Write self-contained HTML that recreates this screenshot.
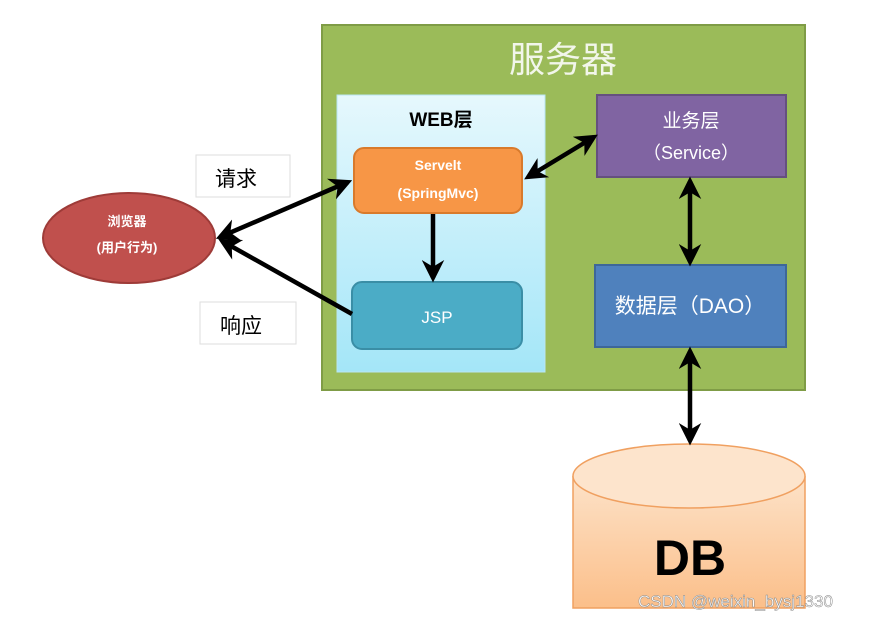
<!DOCTYPE html>
<html><head><meta charset="utf-8"><style>
body{margin:0;width:870px;height:620px;background:#fff;overflow:hidden;font-family:"Liberation Sans","Noto Sans CJK SC",sans-serif}
</style></head><body>
<svg width="870" height="620" xmlns="http://www.w3.org/2000/svg" font-family="'Liberation Sans','Noto Sans CJK SC',sans-serif">
<defs>
<linearGradient id="web" x1="0" y1="0" x2="0" y2="1"><stop offset="0" stop-color="#e6f8fd"/><stop offset="1" stop-color="#a4e6f8"/></linearGradient>
<linearGradient id="db" x1="0" y1="0" x2="0" y2="1"><stop offset="0" stop-color="#fde2c8"/><stop offset="1" stop-color="#fbbf8a"/></linearGradient>
<marker id="ah" viewBox="0 0 10 10" refX="8" refY="5" markerWidth="5" markerHeight="5" orient="auto-start-reverse"><path d="M0,0 L10,5 L0,10 L3,5z" fill="#000"/></marker>
</defs>
<rect x="322" y="25" width="483" height="365" fill="#9bbb59" stroke="#7f9c46" stroke-width="2"/>
<text x="563" y="72" font-size="36" fill="#f2f6ea" text-anchor="middle">服务器</text>
<rect x="337" y="95" width="208" height="277" fill="url(#web)" stroke="#b9e6f3"/>
<text x="441" y="126" font-size="19" font-weight="bold" text-anchor="middle">WEB层</text>
<rect x="354" y="148" width="168" height="65" rx="10" fill="#f79646" stroke="#d97a2b" stroke-width="2"/>
<text x="438" y="170" font-size="14" font-weight="bold" fill="#fff" text-anchor="middle">Servelt</text>
<text x="438" y="198" font-size="14" font-weight="bold" fill="#fff" text-anchor="middle">(SpringMvc)</text>
<rect x="352" y="282" width="170" height="67" rx="10" fill="#4bacc6" stroke="#3a8ea6" stroke-width="2"/>
<text x="437" y="323" font-size="17" fill="#fff" text-anchor="middle">JSP</text>
<rect x="597" y="95" width="189" height="82" fill="#8064a2" stroke="#65507f" stroke-width="2"/>
<text x="691" y="127" font-size="19" fill="#fff" text-anchor="middle">业务层</text>
<text x="691" y="159" font-size="18" fill="#fff" text-anchor="middle">（Service）</text>
<rect x="595" y="265" width="191" height="82" fill="#4f81bd" stroke="#3d6799" stroke-width="2"/>
<text x="690" y="313" font-size="21" fill="#fff" text-anchor="middle">数据层（DAO）</text>
<ellipse cx="129" cy="238" rx="86" ry="45" fill="#c0504d" stroke="#9e3b38" stroke-width="2"/>
<text x="127" y="226" font-size="13" font-weight="bold" fill="#fff" text-anchor="middle">浏览器</text>
<text x="127" y="252" font-size="13" font-weight="bold" fill="#fff" text-anchor="middle">(用户行为)</text>
<rect x="196" y="155" width="94" height="42" fill="#fff" stroke="#ddd"/>
<text x="236" y="186" font-size="21" text-anchor="middle">请求</text>
<rect x="200" y="302" width="96" height="42" fill="#fff" stroke="#ddd"/>
<text x="241" y="333" font-size="21" text-anchor="middle">响应</text>
<path d="M573,476 L573,608 L805,608 L805,476" fill="url(#db)" stroke="#f0a060" stroke-width="1.5"/>
<ellipse cx="689" cy="476" rx="116" ry="32" fill="#fde4cc" stroke="#f0a060" stroke-width="1.5"/>
<text x="690" y="575" font-size="50" font-weight="bold" text-anchor="middle">DB</text>
<g stroke="#000" stroke-width="4.5" fill="none">
<line x1="220" y1="237" x2="348" y2="182" marker-start="url(#ah)" marker-end="url(#ah)"/>
<line x1="352" y1="314" x2="222" y2="241" marker-end="url(#ah)"/>
<line x1="433" y1="214" x2="433" y2="278" marker-end="url(#ah)"/>
<line x1="528" y1="177" x2="594" y2="137" marker-start="url(#ah)" marker-end="url(#ah)"/>
<line x1="690" y1="181" x2="690" y2="262" marker-start="url(#ah)" marker-end="url(#ah)"/>
<line x1="690" y1="351" x2="690" y2="441" marker-start="url(#ah)" marker-end="url(#ah)"/>
</g>
<text x="638" y="607" font-size="17" fill="#fff" stroke="#888" stroke-width="0.5">CSDN @weixin_bysj1330</text>
</svg>
</body></html>
